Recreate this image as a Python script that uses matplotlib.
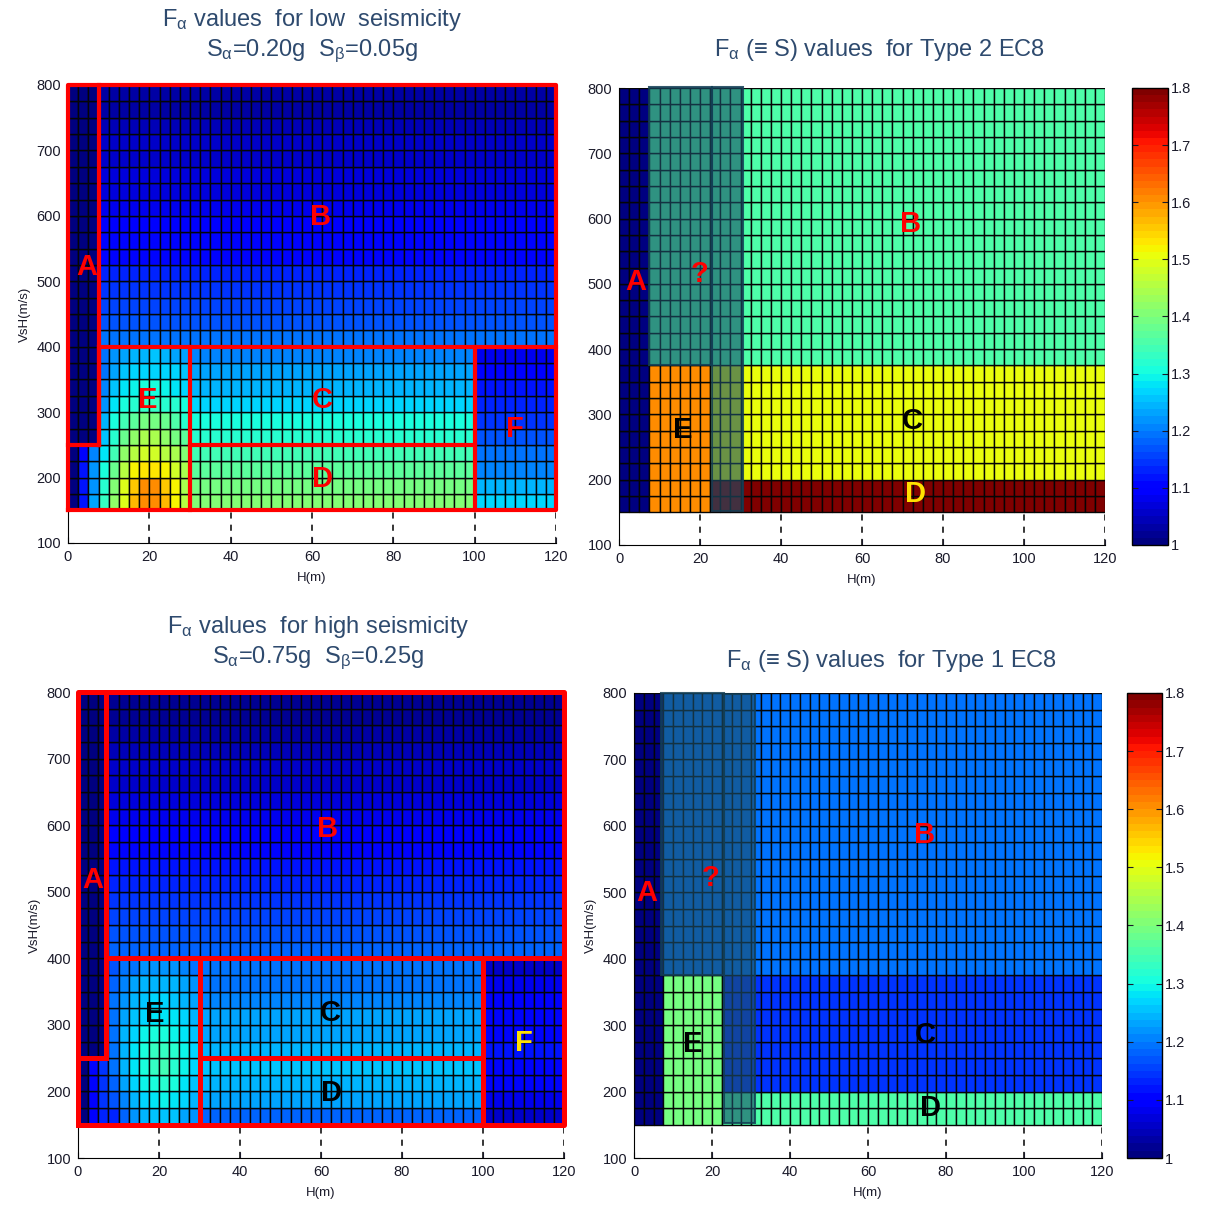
import matplotlib.pyplot as plt
import numpy as np
from matplotlib.patches import Rectangle

plt.rcParams['font.family'] = ['Liberation Sans', 'DejaVu Sans']
plt.rcParams['mathtext.fontset'] = 'custom'
plt.rcParams['mathtext.rm'] = 'Liberation Sans'
plt.rcParams['mathtext.it'] = 'Liberation Sans:italic'
plt.rcParams['mathtext.default'] = 'regular'

# cell grid: H (m) and VsH (m/s)
h_edges = np.arange(0, 122.5, 2.5)
vs_edges = np.arange(150, 825, 25)

# ---- F_alpha, low seismicity (rows listed from top to bottom) ----
low_A = 1.01
low_A_base = [[1.01, 1.11, 1.21],
              [1.01, 1.115, 1.215],
              [1.01, 1.12, 1.22],
              [1.01, 1.12, 1.225]]
low_B = [1.03, 1.035, 1.04, 1.05, 1.055, 1.065, 1.075, 1.085,
         1.09, 1.10, 1.11, 1.125, 1.14, 1.155, 1.17, 1.19]
low_E = [[1.19, 1.215, 1.23, 1.24, 1.245, 1.25, 1.245, 1.235, 1.225],
         [1.20, 1.23, 1.25, 1.265, 1.27, 1.275, 1.27, 1.265, 1.25],
         [1.21, 1.25, 1.28, 1.29, 1.30, 1.30, 1.295, 1.285, 1.275],
         [1.22, 1.28, 1.31, 1.325, 1.335, 1.335, 1.325, 1.315, 1.30],
         [1.24, 1.30, 1.34, 1.37, 1.39, 1.39, 1.38, 1.355, 1.325],
         [1.26, 1.32, 1.38, 1.42, 1.44, 1.44, 1.42, 1.40, 1.37],
         [1.28, 1.34, 1.42, 1.46, 1.48, 1.48, 1.46, 1.44, 1.41],
         [1.31, 1.38, 1.46, 1.515, 1.53, 1.53, 1.515, 1.48, 1.44],
         [1.32, 1.41, 1.49, 1.56, 1.60, 1.60, 1.56, 1.52, 1.45],
         [1.33, 1.42, 1.49, 1.57, 1.61, 1.61, 1.57, 1.525, 1.46]]
low_C = [1.21, 1.225, 1.245, 1.27, 1.30, 1.315]
low_D = [1.34, 1.365, 1.39, 1.41]
low_F = [1.08, 1.095, 1.115, 1.135, 1.15, 1.165, 1.19, 1.21, 1.24, 1.27]

# ---- F_alpha, high seismicity ----
high_A = 1.01
high_A_base = [[1.01, 1.10, 1.15],
               [1.01, 1.10, 1.15],
               [1.01, 1.095, 1.14],
               [1.01, 1.09, 1.13]]
high_B = [1.02, 1.025, 1.03, 1.04, 1.05, 1.06, 1.07, 1.08,
          1.09, 1.10, 1.115, 1.13, 1.14, 1.155, 1.17, 1.18]
high_E = [[1.163, 1.188, 1.20, 1.213, 1.22, 1.22, 1.213, 1.207, 1.20],
          [1.175, 1.207, 1.225, 1.238, 1.244, 1.244, 1.238, 1.225, 1.22],
          [1.188, 1.22, 1.244, 1.257, 1.263, 1.263, 1.257, 1.244, 1.232],
          [1.194, 1.232, 1.257, 1.27, 1.282, 1.282, 1.276, 1.263, 1.244],
          [1.20, 1.238, 1.27, 1.288, 1.31, 1.31, 1.294, 1.276, 1.257],
          [1.20, 1.244, 1.276, 1.31, 1.33, 1.33, 1.32, 1.288, 1.263],
          [1.194, 1.238, 1.276, 1.31, 1.33, 1.34, 1.32, 1.288, 1.263],
          [1.175, 1.225, 1.263, 1.288, 1.31, 1.32, 1.31, 1.276, 1.257],
          [1.163, 1.207, 1.244, 1.27, 1.282, 1.288, 1.282, 1.263, 1.238],
          [1.13, 1.175, 1.213, 1.238, 1.25, 1.257, 1.25, 1.232, 1.213]]
high_C = [1.19, 1.20, 1.21, 1.225, 1.235, 1.245]
high_D = [1.26, 1.245, 1.225, 1.175]
high_F = [1.06, 1.08, 1.09, 1.10, 1.11, 1.115, 1.11, 1.10, 1.085, 1.05]

# ---- EC8 soil factor S per ground class ----
ec8_classes = ['A', 'B', 'C', 'D', 'E']
ec8_type2 = [1.0, 1.35, 1.5, 1.8, 1.6]
ec8_type1 = [1.0, 1.2, 1.15, 1.35, 1.4]

hc = 0.5 * (h_edges[:-1] + h_edges[1:])
vc = 0.5 * (vs_edges[:-1] + vs_edges[1:])


def put(z, v_lo, v_hi, h_lo, h_hi, vals):
    rows = (vc > v_lo) & (vc < v_hi)
    cols = (hc > h_lo) & (hc < h_hi)
    vals = np.asarray(vals, float)
    if vals.ndim == 1:
        vals = vals[::-1][:, None]
    elif vals.ndim == 2:
        vals = vals[::-1]
    z[np.ix_(rows, cols)] = vals


def fa_grid(a, a_base, b, e, c, d, f):
    z = np.zeros((len(vc), len(hc)))
    put(z, 250, 800, 0, 7.5, a)
    put(z, 150, 250, 0, 7.5, a_base)
    put(z, 400, 800, 7.5, 120, b)
    put(z, 150, 400, 7.5, 30, e)
    put(z, 250, 400, 30, 100, c)
    put(z, 150, 250, 30, 100, d)
    put(z, 150, 400, 100, 120, f)
    return z


def ec8_grid(svals):
    s = dict(zip(ec8_classes, svals))
    H, V = np.meshgrid(hc, vc)
    z = np.full(H.shape, s['B'])
    z[V < 375] = s['C']
    z[V < 200] = s['D']
    z[(H < 22.5) & (V < 375)] = s['E']
    z[H < 7.5] = s['A']
    return z


cmap = plt.get_cmap('jet', 64)
title_col = '#2E4A6E'
tick_col = '#1a1a2a'

fig = plt.figure(figsize=(12.06, 12.12), dpi=100)


def base_axes(rect, ylabel=True):
    ax = fig.add_axes(rect)
    ax.set_xlim(0, 120)
    ax.set_ylim(100, 800)
    ax.set_xticks(range(0, 121, 20))
    ax.set_yticks(range(100, 801, 100))
    ax.tick_params(direction='in', length=4, labelsize=10.5, colors=tick_col, pad=5)
    ax.xaxis.grid(True, color='black', linestyle=(0, (4, 4)), linewidth=1.1)
    ax.set_axisbelow(True)
    for s in ['top', 'right']:
        ax.spines[s].set_visible(False)
    ax.set_xlabel('H(m)', fontsize=9.5, color=tick_col, labelpad=6)
    if ylabel:
        ax.set_ylabel('VsH(m/s)', fontsize=9.5, color=tick_col, labelpad=4)
    return ax


def draw_mesh(ax, z):
    m = ax.pcolormesh(h_edges, vs_edges, z, cmap=cmap, vmin=1, vmax=1.8,
                      edgecolors='#050505', linewidth=1.0, antialiased=True,
                      zorder=2)
    return m


def red_lines(ax, xa, lw):
    segs = [([0, 120, 120, 0, 0], [150, 150, 800, 800, 150]),
            ([xa, xa], [250, 800]), ([0, xa], [250, 250]),
            ([xa, 120], [400, 400]), ([xa, xa], [250, 400]),
            ([30, 30], [150, 400]), ([100, 100], [150, 400]),
            ([30, 100], [250, 250])]
    for xs, ys in segs:
        ax.plot(xs, ys, color='#FF0000', linewidth=lw, zorder=4,
                clip_on=False, solid_capstyle='projecting')


def shade(ax, x0, x1, y0, y1):
    ax.add_patch(Rectangle((x0, y0), x1 - x0, y1 - y0,
                           facecolor=(0.11, 0.31, 0.41, 0.62),
                           edgecolor=(0.07, 0.24, 0.33, 0.85),
                           linewidth=1.5, zorder=3, clip_on=False))


def letters(ax, items):
    for x, y, s, c in items:
        ax.text(x, y, s, color=c, fontsize=21, fontweight='bold',
                ha='center', va='center', zorder=5)


def colorbar(m, rect):
    cax = fig.add_axes(rect)
    cb = fig.colorbar(m, cax=cax, ticks=np.arange(1, 1.81, 0.1))
    cb.ax.set_yticklabels(['1', '1.1', '1.2', '1.3', '1.4', '1.5', '1.6', '1.7', '1.8'])
    cb.ax.tick_params(direction='in', length=4, left=True, right=True,
                      labelsize=10.5, colors=tick_col, pad=2)
    cb.outline.set_linewidth(1.0)


# top-left: low seismicity
ax1 = base_axes([68 / 1206, 669 / 1212, 488 / 1206, 458 / 1212])
draw_mesh(ax1, fa_grid(low_A, low_A_base, low_B, low_E, low_C, low_D, low_F))
red_lines(ax1, 7.5, 3.0)
letters(ax1, [(4.5, 522, 'A', 'red'), (62, 598, 'B', 'red'), (19.5, 318, 'E', 'red'),
              (62.5, 318, 'C', 'red'), (62.5, 198, 'D', 'red'), (110, 274, 'F', 'red')])

# top-right: EC8 type 2
ax2 = base_axes([619 / 1206, 667 / 1212, 486 / 1206, 457 / 1212], ylabel=False)
m2 = draw_mesh(ax2, ec8_grid(ec8_type2))
shade(ax2, 7.5, 23, 375, 802)
shade(ax2, 23, 30.5, 152, 802)
letters(ax2, [(4.2, 503, 'A', 'red'), (20, 515, '?', 'red'), (72, 592, 'B', 'red'),
              (15.8, 276, 'E', 'black'), (72.3, 290, 'C', 'black'),
              (73.3, 178, 'D', '#FFE000')])
colorbar(m2, [1132 / 1206, 667 / 1212, 36 / 1206, 457 / 1212])

# bottom-left: high seismicity
ax3 = base_axes([78 / 1206, 54 / 1212, 486 / 1206, 466 / 1212])
draw_mesh(ax3, fa_grid(high_A, high_A_base, high_B, high_E, high_C, high_D, high_F))
red_lines(ax3, 7.0, 3.6)
letters(ax3, [(3.7, 518, 'A', 'red'), (61.5, 594, 'B', 'red'), (19, 317, 'E', 'black'),
              (62.2, 318, 'C', 'black'), (62.7, 198, 'D', 'black'),
              (110, 273, 'F', '#FFE000')])

# bottom-right: EC8 type 1
ax4 = base_axes([634 / 1206, 54 / 1212, 468 / 1206, 465 / 1212])
m4 = draw_mesh(ax4, ec8_grid(ec8_type1))
shade(ax4, 7.0, 23, 375, 800)
shade(ax4, 23, 31, 152, 798)
letters(ax4, [(3.3, 499, 'A', 'red'), (19.7, 521, '?', 'red'), (74.4, 586, 'B', 'red'),
              (15.1, 271, 'E', 'black'), (74.6, 285, 'C', 'black'),
              (75.9, 175, 'D', 'black')])
colorbar(m4, [1127 / 1206, 54 / 1212, 35 / 1206, 465 / 1212])

# titles
def ftext(px, py, s):
    fig.text(px / 1206, 1 - py / 1212, s, ha='center', va='center',
             fontsize=17, color=title_col)


ftext(312, 20, r'F$_{\alpha}$ values  for low  seismicity')
ftext(312, 51, r'S$_{\alpha}$=0.20g  S$_{\beta}$=0.05g')
ftext(880, 50, r'F$_{\alpha}$ (≡ S) values  for Type 2 EC8')
ftext(318, 627, r'F$_{\alpha}$ values  for high seismicity')
ftext(318, 658, r'S$_{\alpha}$=0.75g  S$_{\beta}$=0.25g')
ftext(892, 661, r'F$_{\alpha}$ (≡ S) values  for Type 1 EC8')

fig.savefig('out.png', dpi=100)
